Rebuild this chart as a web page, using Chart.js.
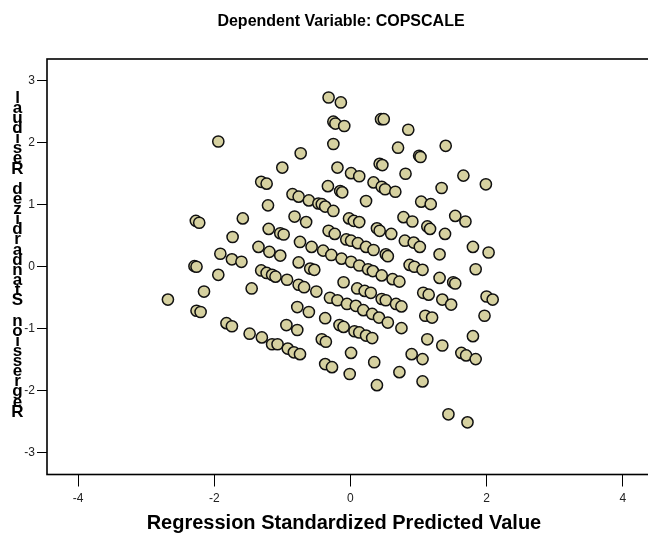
<!DOCTYPE html>
<html>
<head>
<meta charset="utf-8">
<script src="https://cdn.jsdelivr.net/npm/chart.js@4/dist/chart.umd.min.js"></script>
<style>
  html, body { margin: 0; padding: 0; background: #fff; }
</style>
</head>
<body>
<canvas id="chart" width="648" height="538"></canvas>
<script>
const chartTitle = 'Dependent Variable: COPSCALE';
const xTitle = 'Regression Standardized Predicted Value';
const yTitle = 'Regression Standardized Residual';
const xTicks = [-4, -2, 0, 2, 4];
const yTicks = [-3, -2, -1, 0, 1, 2, 3];

// standardized predicted value (x) and standardized residual (y)
const predicted = [
  -1.94, -1.31, -1.23, -1.21, -0.32, -0.14, -0.25, -0.22, -0.09, 0.45,
  0.49, -0.25, -0.73, -1.00, -0.19, 0.01, 0.13, 0.43, 0.47, -0.33,
  -0.15, -0.12, 0.34, 0.46, 0.51, 0.66, -0.85, -0.76, -0.61, -0.47,
  -0.42, 0.23, 0.85, 1.40, 0.70, 1.01, 1.03, 0.81, 1.66, 1.99,
  1.34, 1.04, 1.18, -2.27, -2.22, -1.58, -1.73, -1.20, -1.35, -1.19,
  -1.91, -1.74, -1.60, -2.29, -2.26, -1.94, -1.31, -1.23, -1.15, -1.45,
  -2.15, -2.68, -2.26, -2.20, -1.82, -1.74, -1.48, -1.30, -1.15, -0.37,
  -0.25, -0.82, -0.65, -0.02, 0.05, 0.13, 0.39, 0.43, -1.03, -0.98,
  -0.32, -0.23, -0.74, -0.57, -0.40, -0.06, 0.01, 0.11, 0.23, 0.34,
  -1.03, -0.28, -0.13, 0.01, 0.13, 0.26, 0.33, 0.46, -0.76, -0.59,
  -0.53, -1.10, -0.93, -0.76, -0.68, -0.50, -0.30, -0.19, -0.10, 0.10,
  0.21, 0.30, -0.05, 0.08, 0.19, 0.32, 0.46, -0.78, -0.61, -0.37,
  0.78, 0.91, 1.54, 1.69, 1.13, 1.17, 0.60, 1.39, 0.80, 0.93,
  1.02, 0.52, 0.55, 1.31, 1.80, 2.03, 0.87, 0.94, 1.06, 1.84,
  1.31, 1.51, 1.54, 0.62, 0.72, 1.07, 1.15, 2.00, 2.09, 0.52,
  0.67, 0.75, 1.35, 1.48, 1.10, 1.20, 1.97, -0.94, -0.78, -0.16,
  -0.10, 0.06, 0.13, 0.23, 0.32, 0.42, -1.07, -0.92, -0.83, -0.74,
  -0.42, -0.36, 0.01, -0.37, -0.27, 0.35, -0.01, 0.39, 0.55, 0.75,
  1.13, 1.35, 1.80, 0.90, 1.06, 1.63, 1.70, 1.84, 0.72, 1.06,
  1.44, 1.72
];
const residual = [
  2.02, 1.37, 1.34, 0.99, 2.73, 2.65, 2.34, 2.31, 2.27, 2.38,
  2.38, 1.98, 1.83, 1.60, 1.60, 1.51, 1.46, 1.66, 1.64, 1.30,
  1.22, 1.20, 1.36, 1.29, 1.25, 1.21, 1.17, 1.13, 1.07, 1.02,
  1.01, 1.06, 2.21, 1.95, 1.92, 1.79, 1.77, 1.50, 1.47, 1.33,
  1.27, 1.05, 1.01, 0.74, 0.71, 0.78, 0.48, 0.61, 0.32, 0.24,
  0.21, 0.12, 0.08, 0.01, 0.00, -0.13, -0.06, -0.10, -0.13, -0.35,
  -0.40, -0.53, -0.71, -0.73, -0.91, -0.96, -1.08, -1.14, -1.25, 0.97,
  0.90, 0.81, 0.72, 0.78, 0.74, 0.72, 0.62, 0.58, 0.54, 0.52,
  0.58, 0.53, 0.40, 0.32, 0.26, 0.44, 0.42, 0.38, 0.32, 0.27,
  0.18, 0.19, 0.13, 0.08, 0.02, -0.04, -0.07, -0.14, 0.07, -0.03,
  -0.05, -0.16, -0.21, -0.29, -0.33, -0.40, -0.50, -0.54, -0.25, -0.35,
  -0.39, -0.42, -0.60, -0.63, -0.70, -0.76, -0.52, -0.65, -0.73, -0.83,
  0.80, 0.73, 0.82, 0.73, 0.65, 0.61, 0.53, 0.53, 0.42, 0.39,
  0.32, 0.20, 0.17, 0.20, 0.32, 0.23, 0.03, 0.00, -0.05, -0.04,
  -0.18, -0.25, -0.27, -0.20, -0.24, -0.42, -0.45, -0.48, -0.53, -0.54,
  -0.60, -0.64, -0.53, -0.61, -0.79, -0.82, -0.79, -0.94, -1.02, -0.94,
  -0.97, -1.04, -1.06, -1.11, -1.15, -0.82, -1.25, -1.32, -1.38, -1.41,
  -1.17, -1.21, -1.39, -1.57, -1.62, -1.54, -1.73, -1.91, -0.90, -0.99,
  -1.17, -1.27, -1.12, -1.41, -1.49, -1.39, -1.43, -1.49, -1.70, -1.85,
  -2.38, -2.51
];

const fontFamily = 'Arial, "Liberation Sans", Helvetica, sans-serif';

// title, odd stacked y label and the plot frame (right edge runs off the image)
const decorations = {
  id: 'decorations',
  afterDraw(chart) {
    const { ctx, chartArea: a } = chart;
    ctx.save();
    ctx.strokeStyle = '#000';
    ctx.lineWidth = 1.6;
    ctx.strokeRect(a.left, a.top, a.right - a.left + 10, a.bottom - a.top);

    ctx.fillStyle = '#000';
    ctx.textAlign = 'center';
    ctx.textBaseline = 'middle';
    ctx.font = 'bold 16px ' + fontFamily;
    ctx.fillText(chartTitle, 341, 22);

    ctx.font = 'bold 17px ' + fontFamily;
    const chars = yTitle.split('').reverse();
    const step = (412 - 98) / (chars.length - 1);
    chars.forEach((c, i) => ctx.fillText(c, 17.5, 98 + i * step));
    ctx.restore();
  }
};

new Chart(document.getElementById('chart'), {
  type: 'scatter',
  data: {
    datasets: [{
      data: predicted.map((x, i) => ({ x: x, y: residual[i] })),
      pointRadius: 5.6,
      pointHoverRadius: 5.6,
      borderWidth: 1.5,
      backgroundColor: '#d6d1a0',
      borderColor: '#111'
    }]
  },
  options: {
    responsive: false,
    animation: false,
    events: [],
    layout: { padding: { top: 59, left: 0, right: 0, bottom: 0 } },
    plugins: {
      legend: { display: false },
      tooltip: { enabled: false }
    },
    scales: {
      x: {
        type: 'linear',
        min: -4.456,
        max: 4.267,
        afterBuildTicks: s => { s.ticks = xTicks.map(v => ({ value: v })); },
        afterFit: s => { s.height = 63.5; },
        border: { display: false },
        grid: { drawOnChartArea: false, drawTicks: true, tickLength: 12, tickColor: '#000' },
        ticks: { padding: 5, color: '#222', autoSkip: false, maxRotation: 0, font: { family: fontFamily, size: 12 } },
        title: { display: true, text: xTitle, color: '#000', padding: { top: 0, bottom: 3 }, font: { family: fontFamily, size: 20, weight: 'bold' } }
      },
      y: {
        type: 'linear',
        min: -3.351,
        max: 3.351,
        afterBuildTicks: s => { s.ticks = yTicks.map(v => ({ value: v })); },
        afterFit: s => { s.width = 47; },
        border: { display: false },
        grid: { drawOnChartArea: false, drawTicks: true, tickLength: 10, tickColor: '#000' },
        ticks: { padding: 2, color: '#222', autoSkip: false, font: { family: fontFamily, size: 12 } }
      }
    }
  },
  plugins: [decorations]
});
</script>
</body>
</html>
